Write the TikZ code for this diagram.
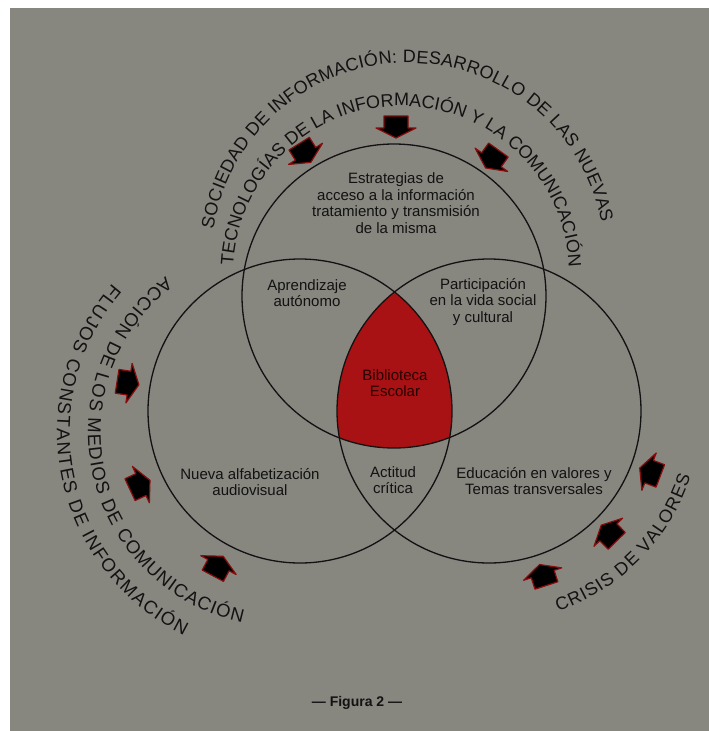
\documentclass[tikz,border=0pt]{standalone}
\usepackage{fontspec}
\setmainfont{Liberation Sans}
\usetikzlibrary{decorations.text}
\definecolor{bg}{RGB}{135,134,127}
\definecolor{ink}{RGB}{18,18,18}
\definecolor{redfill}{RGB}{168,18,20}
\definecolor{arrowred}{RGB}{135,12,12}
\newcommand{\arcfont}{\fontsize{18}{18}\selectfont}
\newcommand{\arcfontL}{\fontsize{18.5}{18.5}\selectfont}
\begin{document}
\begin{tikzpicture}[x=1pt,y=1pt,
  circ/.style={draw=ink, line width=1.3},
  lbl/.style={font=\fontsize{15}{16.5}\selectfont, text=ink, align=center, inner sep=0},
  barrow/.pic={\filldraw[fill=black, draw=arrowred, line width=1.2, line join=round]
     (-11,-12) -- (1,-12) -- (1,-20) -- (11,0) -- (1,20) -- (1,12) -- (-11,12) -- cycle;},
  arctext/.style={decorate, decoration={text along path, text align={fit to path}, text color=ink}}
]
\useasboundingbox (0,0) rectangle (709,-731);
\fill[white] (0,0) rectangle (709,-731);
\fill[bg] (10,-8) rectangle (709,-731);

% central intersection
\begin{scope}
  \clip (300,-411) circle[radius=152];
  \clip (489,-411) circle[radius=152];
  \fill[redfill] (394,-296) circle[radius=152];
\end{scope}

% circles
\draw[circ] (394,-296) circle[radius=152];
\draw[circ] (300,-411) circle[radius=152];
\draw[circ] (489,-411) circle[radius=152];

% labels
\node[lbl] (estr) at (396,-203) {Estrategias de\\acceso a la información\\tratamiento y transmisión\\de la misma};
\node[lbl] (apre) at (307,-293) {Aprendizaje\\autónomo};
\node[lbl] (part) at (483,-302) {Participación\\en la vida social\\y cultural};
\node[lbl, text=black!85!red] (bibl) at (395,-383) {Biblioteca\\Escolar};
\node[lbl] (acti) at (393,-480) {Actitud\\crítica};
\node[lbl] (nuev) at (250,-482) {Nueva alfabetización\\audiovisual};
\node[lbl] (educ) at (534,-481) {Educación en valores y\\Temas transversales};
\node[font=\bfseries\fontsize{14}{16}\selectfont, text=ink, inner sep=0] (fig) at (357,-703) {— Figura 2 —};

% block arrows (pointing toward the circles)
\pic (t1) [rotate=-58] at (305,-153) {barrow};
\pic (t2) [rotate=-90] at (396,-127) {barrow};
\pic (t3) [rotate=-125.6] at (492,-159) {barrow};
\pic (l1) [rotate=-9] at (128,-383) {barrow};
\pic (l2) [rotate=25] at (140,-485) {barrow};
\pic (l3) [rotate=62] at (218,-566) {barrow};
\pic (r1) [rotate=159] at (650,-472) {barrow};
\pic (r2) [rotate=134.5] at (609,-533) {barrow};
\pic (r3) [rotate=108] at (543,-575) {barrow};

% arc texts
\coordinate (cTo) at (408,-260);
\coordinate (cTi) at (401,-274);
\coordinate (cL) at (283,-432);
\coordinate (cR) at (489,-411);
\path[arctext, decoration={text={|\arcfont|SOCIEDAD DE INFORMACIÓN: DESARROLLO DE LAS NUEVAS}}]
  ([shift={(171:197)}]cTo) arc[start angle=171, end angle=11, radius=197];
\path[arctext, decoration={text={|\arcfont|TECNOLOGÍAS DE LA INFORMACIÓN Y LA COMUNICACIÓN}}]
  ([shift={(177:168)}]cTi) arc[start angle=177, end angle=3.5, radius=168];
\path[arctext, decoration={text={|\arcfontL|ACCIÓN DE LOS MEDIOS DE COMUNICACIÓN}}]
  ([shift={(127:195)}]cL) arc[start angle=127, end angle=258, radius=195];
\path[arctext, decoration={text={|\arcfontL|FLUJOS CONSTANTES DE INFORMACIÓN}}]
  ([shift={(139:226)}]cL) arc[start angle=139, end angle=244, radius=226];
\path[arctext, decoration={text={|\arcfont|CRISIS DE VALORES}}]
  ([shift={(-71:212)}]cR) arc[start angle=-71, end angle=-18, radius=212];
\end{tikzpicture}
\end{document}
